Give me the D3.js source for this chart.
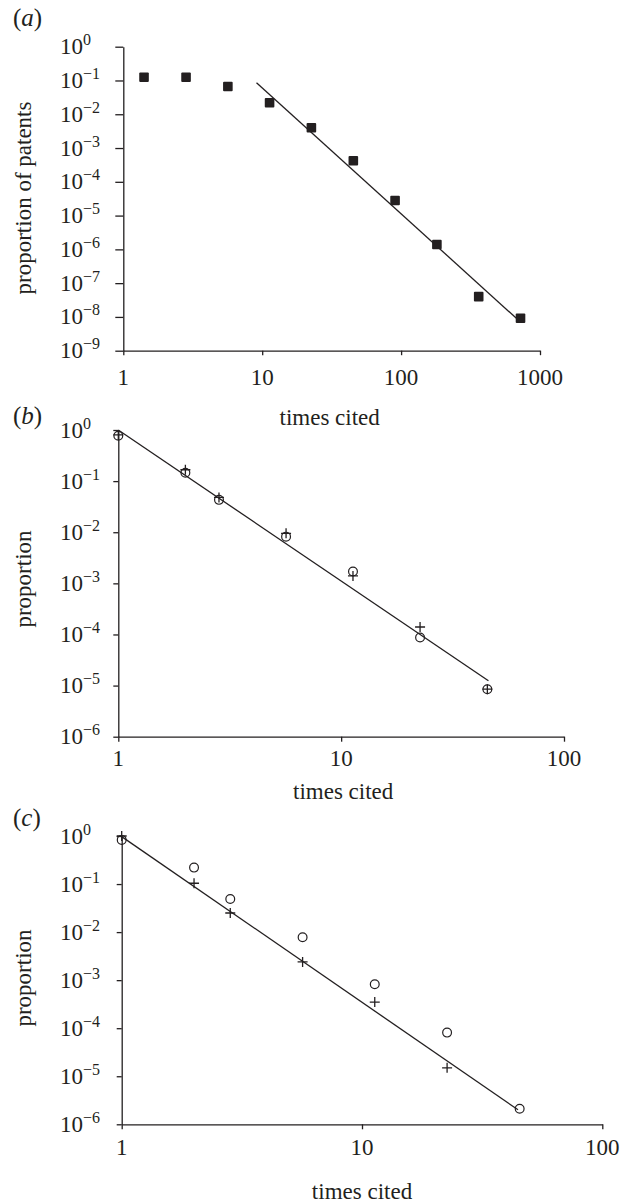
<!DOCTYPE html>
<html><head><meta charset="utf-8">
<script src="https://cdn.jsdelivr.net/npm/d3@7"></script>
<style>
body{margin:0;background:#fff}
svg text{font-family:"Liberation Serif","Times New Roman",serif;fill:#231f20}
</style>
</head><body>
<svg id="chart" width="638" height="1204"></svg>
<script>
// ---------- data ----------
// panel (a): proportion of patents vs times cited (log bins)
const aTimes  = [1.41, 2.83, 5.66, 11.3, 22.6, 45.3, 90.5, 181, 362, 724];
const aProp   = [0.124, 0.124, 0.066, 0.022, 0.0040, 4.2e-4, 2.8e-5, 1.4e-6, 4.0e-8, 9.1e-9];
const aFitX   = [9.1, 676];
const aFitY   = [0.086, 9.1e-9];
const aXTicks = [1, 10, 100, 1000];
const aYTicks = [1, 1e-1, 1e-2, 1e-3, 1e-4, 1e-5, 1e-6, 1e-7, 1e-8, 1e-9];

// panel (b)
const bTimes   = [1, 2, 2.83, 5.66, 11.3, 22.6, 45.3];
const bCircle  = [0.77, 0.146, 0.043, 0.0082, 0.0017, 8.7e-5, 8.5e-6];
const bPlus    = [0.80, 0.167, 0.048, 0.0095, 0.0014, 1.4e-4, 8.5e-6];
const bFitX    = [1, 45.8];
const bFitY    = [1.0, 1.24e-5];

// panel (c)
const cTimes   = [1, 2, 2.83, 5.66, 11.3, 22.6, 45.3];
const cCircle  = [0.83, 0.22, 0.049, 0.0078, 8.2e-4, 8.1e-5, 2.1e-6];
const cPlusX   = [1, 2, 2.83, 5.66, 11.3, 22.6];
const cPlus    = [1.0, 0.104, 0.025, 0.0024, 3.5e-4, 1.5e-5];
const cFitX    = [1, 44.6];
const cFitY    = [0.97, 2.0e-6];

const bcXTicks = [1, 10, 100];
const bcYTicks = [1, 1e-1, 1e-2, 1e-3, 1e-4, 1e-5, 1e-6];

// ---------- drawing ----------
const INK = "#231f20";
const svg = d3.select("#chart");

function panel(cfg){
  const x = d3.scaleLog().domain([cfg.xTicks[0], cfg.xTicks[cfg.xTicks.length-1]]).range([cfg.left, cfg.right]);
  const y = d3.scaleLog().domain([d3.min(cfg.yTicks), d3.max(cfg.yTicks)]).range([cfg.bottom, cfg.top]);
  const g = svg.append("g");

  const ya = g.append("g").attr("transform", `translate(${cfg.left},0)`)
    .call(d3.axisLeft(y).tickValues(cfg.yTicks).tickSizeInner(cfg.yTickLen).tickSizeOuter(0).tickFormat(""));
  const xa = g.append("g").attr("transform", `translate(0,${cfg.bottom})`)
    .call(d3.axisBottom(x).tickValues(cfg.xTicks).tickSizeInner(cfg.xTickLen).tickSizeOuter(0).tickFormat(""));
  [ya, xa].forEach(a => {
    a.selectAll("path,line").attr("stroke", INK).attr("stroke-width", 1.3);
  });

  // y tick labels 10^n
  cfg.yTicks.forEach(t => {
    const e = Math.round(Math.log10(t));
    const tx = g.append("text").attr("x", 60).attr("y", y(t) + 7.5).attr("font-size", 23);
    tx.append("tspan").text("10");
    tx.append("tspan").attr("font-size", 16).attr("dy", -9).text(e === 0 ? "0" : "\u2212" + (-e));
  });
  // x tick labels
  cfg.xTicks.forEach(t => {
    g.append("text").attr("x", x(t)).attr("y", cfg.bottom + cfg.xLabOff)
      .attr("text-anchor", "middle").attr("font-size", 23).text(String(t));
  });
  // axis titles
  g.append("text").attr("x", (cfg.left + cfg.right) / 2 + cfg.xTitleDx).attr("y", cfg.xTitleY)
    .attr("text-anchor", "middle").attr("font-size", 23).text("times cited");
  g.append("text").attr("transform", `translate(31,${cfg.yTitleY}) rotate(-90)`)
    .attr("text-anchor", "middle").attr("font-size", 23).text(cfg.yTitle);
  // panel letter
  const pl = g.append("text").attr("x", 13).attr("y", cfg.letterY).attr("font-size", 25);
  pl.append("tspan").text("(");
  pl.append("tspan").attr("font-style", "italic").text(cfg.letter);
  pl.append("tspan").text(")");

  // fit line
  g.append("line")
    .attr("x1", x(cfg.fitX[0])).attr("y1", y(cfg.fitY[0]))
    .attr("x2", x(cfg.fitX[1])).attr("y2", y(cfg.fitY[1]))
    .attr("stroke", INK).attr("stroke-width", 1.3);
  return {g, x, y};
}

// panel a
const pa = panel({left:123.3, right:540, top:46.7, bottom:350.7, xTicks:aXTicks, yTicks:aYTicks,
  yTickLen:8, xTickLen:4.5, xLabOff:34, xTitleY:425, xTitleDx:-2, yTitle:"proportion of patents",
  yTitleY:198, letter:"a", letterY:26, fitX:aFitX, fitY:aFitY});
pa.g.selectAll("rect.sq").data(aTimes.map((t,i)=>[t,aProp[i]])).join("rect").attr("class","sq")
  .attr("x", d => pa.x(d[0]) - 4.8).attr("y", d => pa.y(d[1]) - 4.8)
  .attr("width", 9.6).attr("height", 9.6).attr("rx", 1).attr("fill", INK);

function circlesAndPlus(p, cx, cy, px, py){
  p.g.selectAll("circle.o").data(cx.map((t,i)=>[t,cy[i]])).join("circle").attr("class","o")
    .attr("cx", d => p.x(d[0])).attr("cy", d => p.y(d[1])).attr("r", 4.4)
    .attr("fill", "none").attr("stroke", INK).attr("stroke-width", 1.2);
  p.g.selectAll("path.p").data(px.map((t,i)=>[t,py[i]])).join("path").attr("class","p")
    .attr("d", d => { const X = p.x(d[0]), Y = p.y(d[1]);
      return `M${X-5},${Y}H${X+5}M${X},${Y-5}V${Y+5}`; })
    .attr("fill", "none").attr("stroke", INK).attr("stroke-width", 1.3);
}

// panel b
const pb = panel({left:118.3, right:564, top:430, bottom:736.7, xTicks:bcXTicks, yTicks:bcYTicks,
  yTickLen:5, xTickLen:5, xLabOff:29.5, xTitleY:799, xTitleDx:2, yTitle:"proportion",
  yTitleY:579, letter:"b", letterY:424, fitX:bFitX, fitY:bFitY});
circlesAndPlus(pb, bTimes, bCircle, bTimes, bPlus);

// panel c
const pc = panel({left:121.7, right:602.3, top:836, bottom:1124.3, xTicks:bcXTicks, yTicks:bcYTicks,
  yTickLen:5, xTickLen:5, xLabOff:31, xTitleY:1199, xTitleDx:0, yTitle:"proportion",
  yTitleY:978, letter:"c", letterY:826, fitX:cFitX, fitY:cFitY});
circlesAndPlus(pc, cTimes, cCircle, cPlusX, cPlus);
</script>
</body></html>
